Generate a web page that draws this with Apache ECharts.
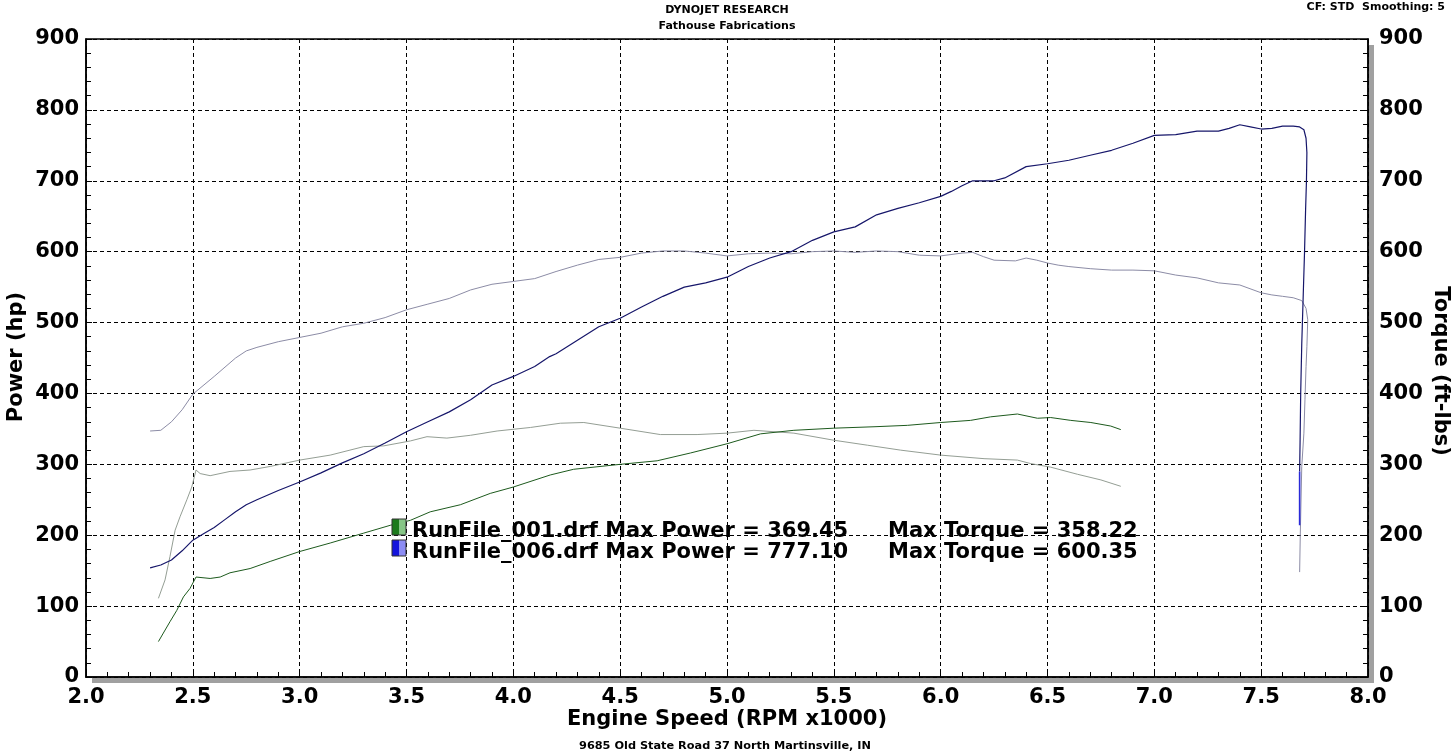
<!DOCTYPE html>
<html>
<head>
<meta charset="utf-8">
<script src="https://cdn.jsdelivr.net/npm/echarts@6/dist/echarts.min.js"></script>
<style>
html,body{margin:0;padding:0;background:#fff;}
#chart{width:1455px;height:755px;}
</style>
</head>
<body>
<div id="chart"></div>
<script>
// ---- data: [rpm x1000, value] ----
const run006Power = [[2.30,154],[2.35,158],[2.40,165],[2.45,178],[2.50,193],[2.55,202],[2.60,211],[2.65,222],[2.70,233],[2.75,243],[2.80,250],[2.90,263],[3.00,275],[3.10,288],[3.20,302],[3.30,315],[3.40,330],[3.50,346],[3.60,360],[3.70,374],[3.80,391],[3.90,412],[4.00,424],[4.10,438],[4.17,452],[4.20,456],[4.30,475],[4.40,494],[4.50,506],[4.60,522],[4.70,537],[4.80,550],[4.90,556],[5.00,564],[5.10,579],[5.20,591],[5.30,600],[5.40,616],[5.50,628],[5.60,635],[5.70,652],[5.80,661],[5.90,669],[6.00,678],[6.05,685],[6.10,693],[6.15,700],[6.25,700],[6.30,704],[6.40,720],[6.50,724],[6.60,729],[6.70,736],[6.80,743],[6.90,753],[7.00,764],[7.10,765],[7.20,770],[7.30,770],[7.35,774],[7.40,779],[7.45,776],[7.50,773],[7.55,774],[7.60,777],[7.65,777],[7.68,776],[7.70,772],[7.71,760],[7.714,740],[7.712,700],[7.708,660],[7.703,600],[7.697,540],[7.690,470],[7.685,400],[7.682,330],[7.680,290]];
const run006PowerTail = [[7.680,290],[7.680,214]];
const run006Torque = [[2.30,347],[2.35,348],[2.40,360],[2.45,377],[2.50,399],[2.60,424],[2.70,450],[2.75,460],[2.80,465],[2.90,473],[3.00,479],[3.10,485],[3.20,494],[3.30,499],[3.40,507],[3.50,518],[3.60,526],[3.70,534],[3.80,546],[3.90,554],[4.00,558],[4.10,562],[4.20,572],[4.30,581],[4.40,589],[4.50,592],[4.60,598],[4.70,601],[4.80,601],[4.90,598],[5.00,594],[5.10,597],[5.20,598],[5.30,597],[5.40,600],[5.50,601],[5.60,599],[5.70,601],[5.80,600],[5.90,595],[6.00,594],[6.10,598],[6.15,599],[6.20,593],[6.25,588],[6.35,587],[6.40,591],[6.45,588],[6.50,584],[6.55,581],[6.60,579],[6.70,576],[6.80,574],[6.90,574],[7.00,573],[7.10,567],[7.20,563],[7.30,556],[7.40,553],[7.50,542],[7.55,539],[7.60,537],[7.65,535],[7.69,531],[7.71,520],[7.718,504],[7.714,466],[7.71,438],[7.705,391],[7.70,344],[7.69,297],[7.683,200],[7.68,148]];
const run001Power = [[2.339,50],[2.362,62],[2.393,78],[2.425,94],[2.456,113],[2.487,125],[2.515,141],[2.581,139],[2.628,141],[2.674,147],[2.768,153],[2.862,163],[3.00,177],[3.143,189],[3.30,203],[3.424,214],[3.518,221],[3.611,233],[3.752,243],[3.892,259],[4.00,268],[4.173,285],[4.282,293],[4.50,300],[4.673,305],[4.829,316],[5.00,329],[5.157,343],[5.313,348],[5.50,351],[5.688,353],[5.844,355],[6.00,359],[6.14,362],[6.234,367],[6.359,371],[6.453,365],[6.515,366],[6.609,362],[6.703,359],[6.796,354],[6.843,349]];
const run001Torque = [[2.339,111],[2.370,137],[2.393,170],[2.417,207],[2.440,226],[2.472,250],[2.495,268],[2.515,292],[2.534,287],[2.581,284],[2.674,290],[2.768,292],[2.862,297],[3.00,306],[3.143,313],[3.30,325],[3.393,326],[3.518,333],[3.596,339],[3.689,337],[3.80,341],[3.924,347],[4.08,352],[4.22,358],[4.33,359],[4.50,351],[4.688,342],[4.86,342],[5.00,344],[5.126,348],[5.313,344],[5.50,334],[5.657,327],[5.813,320],[6.00,313],[6.203,308],[6.359,306],[6.422,301],[6.515,296],[6.64,286],[6.75,278],[6.843,269]];
const legendLines = [
  ['RunFile_001.drf Max Power = 369.45', 'Max Torque = 358.22'],
  ['RunFile_006.drf Max Power = 777.10', 'Max Torque = 600.35']
];
const titleLines = ['DYNOJET RESEARCH', 'Fathouse Fabrications'];
const cornerText = 'CF: STD  Smoothing: 5';
const footerText = '9685 Old State Road 37 North Martinsville, IN';
const xName = 'Engine Speed (RPM x1000)';
const yLeftName = 'Power (hp)';
const yRightName = 'Torque (ft-lbs)';

const FONT = 'DejaVu Sans';
const chart = echarts.init(document.getElementById('chart'), null, {renderer: 'canvas'});

const G = {left: 86, right: 87, top: 39, bottom: 78};
const W = 1455, H = 755;
const gx1 = G.left, gx2 = W - G.right, gy1 = G.top, gy2 = H - G.bottom;

function axisCommon(extra) {
  return Object.assign({
    axisLine: {show: true, lineStyle: {color: '#000', width: 1.5}},
    axisTick: {show: true, inside: true, length: 6, lineStyle: {color: '#000', width: 1}},
    minorTick: {show: true, splitNumber: 5, length: 5, lineStyle: {color: '#000', width: 1}},
    axisLabel: {color: '#000', fontSize: 21, fontWeight: 'bold', fontFamily: FONT},
  }, extra);
}
const dashed = {show: true, lineStyle: {color: '#000', type: [4, 3], width: 1}};

const boxW = 7, boxH = 16;
function swatch(y, dark, light) {
  return [
    {type: 'rect', shape: {x: 392, y: y, width: boxW, height: boxH}, style: {fill: dark, stroke: null}, z: 100},
    {type: 'rect', shape: {x: 392 + boxW, y: y, width: boxW, height: boxH}, style: {fill: light, stroke: null}, z: 100},
    {type: 'rect', shape: {x: 392, y: y, width: boxW * 2, height: boxH}, style: {fill: null, stroke: '#333', lineWidth: 1}, z: 101}
  ];
}

const option = {
  backgroundColor: '#fff',
  animation: false,
  grid: {left: G.left, right: G.right, top: G.top, bottom: G.bottom, show: true, borderColor: '#000', borderWidth: 1.5, backgroundColor: '#fff'},
  xAxis: axisCommon({
    type: 'value', min: 2, max: 8, interval: 0.5,
    axisLabel: {color: '#000', fontSize: 21, fontWeight: 'bold', fontFamily: FONT, margin: 10,
      formatter: v => v.toFixed(1)},
    splitLine: dashed
  }),
  yAxis: [
    axisCommon({type: 'value', min: 0, max: 900, interval: 100, position: 'left',
      axisLabel: {color: '#000', fontSize: 21, fontWeight: 'bold', fontFamily: FONT, margin: 7},
      splitLine: dashed}),
    axisCommon({type: 'value', min: 0, max: 900, interval: 100, position: 'right',
      axisLabel: {color: '#000', fontSize: 21, fontWeight: 'bold', fontFamily: FONT, margin: 11},
      splitLine: {show: false}})
  ],
  series: [
    {type: 'line', name: 'Torque 006', yAxisIndex: 1, data: run006Torque, showSymbol: false, lineStyle: {color: '#8c8ca6', width: 1}, z: 3},
    {type: 'line', name: 'Torque 001', yAxisIndex: 1, data: run001Torque, showSymbol: false, lineStyle: {color: '#949e94', width: 1}, z: 3},
    {type: 'line', name: 'Power 001', yAxisIndex: 0, data: run001Power, showSymbol: false, lineStyle: {color: '#1d5a1d', width: 1}, z: 4},
    {type: 'line', name: 'Power 006', yAxisIndex: 0, data: run006Power, showSymbol: false, lineStyle: {color: '#16166a', width: 1.2}, z: 5},
    {type: 'line', name: 'Power 006 tail', yAxisIndex: 0, data: run006PowerTail, showSymbol: false, lineStyle: {color: '#2a2ad8', width: 1.6}, z: 5}
  ],
  graphic: [
    {type: 'rect', shape: {x: gx2 + 1, y: gy1 + 6, width: 5, height: gy2 - gy1}, style: {fill: '#a0a0a0'}, z: -1},
    {type: 'rect', shape: {x: gx1 + 6, y: gy2 + 1, width: gx2 - gx1, height: 5}, style: {fill: '#a0a0a0'}, z: -1},
    {type: 'text', x: 727, y: 10, style: {text: titleLines[0], x: 0, y: 0, textAlign: 'center', textVerticalAlign: 'middle', fontSize: 11, fontWeight: 'bold', fontFamily: FONT, fill: '#000'}},
    {type: 'text', x: 727, y: 26, style: {text: titleLines[1], x: 0, y: 0, textAlign: 'center', textVerticalAlign: 'middle', fontSize: 11, fontWeight: 'bold', fontFamily: FONT, fill: '#000'}},
    {type: 'text', x: 1445, y: 7, style: {text: cornerText, x: 0, y: 0, textAlign: 'right', textVerticalAlign: 'middle', fontSize: 11, fontWeight: 'bold', fontFamily: FONT, fill: '#000'}},
    {type: 'text', x: 725, y: 746, style: {text: footerText, x: 0, y: 0, textAlign: 'center', textVerticalAlign: 'middle', fontSize: 11.3, fontWeight: 'bold', fontFamily: FONT, fill: '#000'}},
    {type: 'text', x: 727, y: 720, style: {text: xName, x: 0, y: 0, textAlign: 'center', textVerticalAlign: 'middle', fontSize: 21, fontWeight: 'bold', fontFamily: FONT, fill: '#000'}},
    {type: 'text', x: 17, y: 357, rotation: Math.PI / 2, style: {text: yLeftName, x: 0, y: 0, textAlign: 'center', textVerticalAlign: 'middle', fontSize: 21, fontWeight: 'bold', fontFamily: FONT, fill: '#000'}},
    {type: 'text', x: 1440, y: 371, rotation: -Math.PI / 2, style: {text: yRightName, x: 0, y: 0, textAlign: 'center', textVerticalAlign: 'middle', fontSize: 21, fontWeight: 'bold', fontFamily: FONT, fill: '#000'}},
    ...swatch(519, '#1c7a1c', '#86c686'),
    ...swatch(540, '#1414dc', '#8c8cf4'),
    {type: 'text', x: 412, y: 532, z: 100, style: {text: legendLines[0][0], x: 0, y: 0, textAlign: 'left', textVerticalAlign: 'middle', fontSize: 21, fontWeight: 'bold', fontFamily: FONT, fill: '#000'}},
    {type: 'text', x: 888, y: 532, z: 100, style: {text: legendLines[0][1], x: 0, y: 0, textAlign: 'left', textVerticalAlign: 'middle', fontSize: 21, fontWeight: 'bold', fontFamily: FONT, fill: '#000'}},
    {type: 'text', x: 412, y: 553, z: 100, style: {text: legendLines[1][0], x: 0, y: 0, textAlign: 'left', textVerticalAlign: 'middle', fontSize: 21, fontWeight: 'bold', fontFamily: FONT, fill: '#000'}},
    {type: 'text', x: 888, y: 553, z: 100, style: {text: legendLines[1][1], x: 0, y: 0, textAlign: 'left', textVerticalAlign: 'middle', fontSize: 21, fontWeight: 'bold', fontFamily: FONT, fill: '#000'}}
  ]
};
chart.setOption(option);
</script>
</body>
</html>
